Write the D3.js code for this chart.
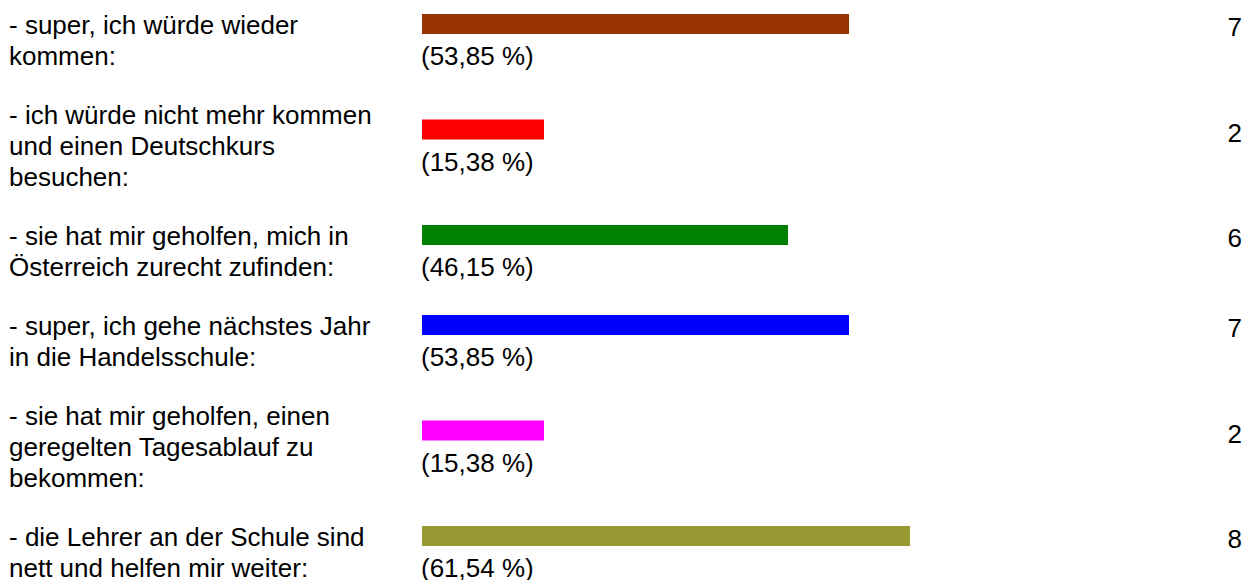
<!DOCTYPE html>
<html>
<head>
<meta charset="utf-8">
<script src="https://cdn.jsdelivr.net/npm/d3@7"></script>
<style>
  html, body { margin: 0; padding: 0; background: #fff; }
  svg { display: block; }
  text { font-family: "Liberation Sans", Arial, sans-serif; font-size: 26px; fill: #000; }
</style>
</head>
<body>
<svg id="chart" width="1243" height="580"></svg>
<script>
const categories = [
  ["- super, ich würde wieder", "kommen:"],
  ["- ich würde nicht mehr kommen", "und einen Deutschkurs", "besuchen:"],
  ["- sie hat mir geholfen, mich in", "Österreich zurecht zufinden:"],
  ["- super, ich gehe nächstes Jahr", "in die Handelsschule:"],
  ["- sie hat mir geholfen, einen", "geregelten Tagesablauf zu", "bekommen:"],
  ["- die Lehrer an der Schule sind", "nett und helfen mir weiter:"]
];
const counts = [7, 2, 6, 7, 2, 8];
const percentLabels = ["(53,85 %)", "(15,38 %)", "(46,15 %)", "(53,85 %)", "(15,38 %)", "(61,54 %)"];
const colors = ["#993300", "#ff0000", "#008000", "#0000ff", "#ff00ff", "#999933"];
const total = 13;

const svg = d3.select("#chart");
const lineH = 31, rowGap = 28, firstBaseline = 34;
const barX = 422, barH = 20;

const x = d3.scaleLinear().domain([0, total]).range([0, 793]);

const rows = [];
let b = firstBaseline;
categories.forEach((lines, i) => {
  rows.push({ i, lines, base: b, count: counts[i], pct: percentLabels[i], color: colors[i] });
  b += lines.length * lineH + rowGap;
});

const g = svg.selectAll("g.row").data(rows).enter().append("g").attr("class", "row");

g.each(function(d) {
  const sel = d3.select(this);
  const t = sel.append("text").attr("x", 9).attr("y", d.base);
  d.lines.forEach((ln, k) => {
    t.append("tspan").attr("x", 9).attr("y", d.base + k * lineH).text(ln);
  });
  const barTop = d.base + (d.lines.length - 2) * lineH / 2 - barH;
  sel.append("rect")
    .attr("x", barX + x(0)).attr("y", barTop)
    .attr("width", x(d.count) - x(0)).attr("height", barH)
    .attr("fill", d.color);
  sel.append("text").attr("x", 421).attr("y", barTop + 51).text(d.pct);
  sel.append("text").attr("x", 1242).attr("y", barTop + 22)
    .attr("text-anchor", "end").text(d.count);
});
</script>
</body>
</html>
